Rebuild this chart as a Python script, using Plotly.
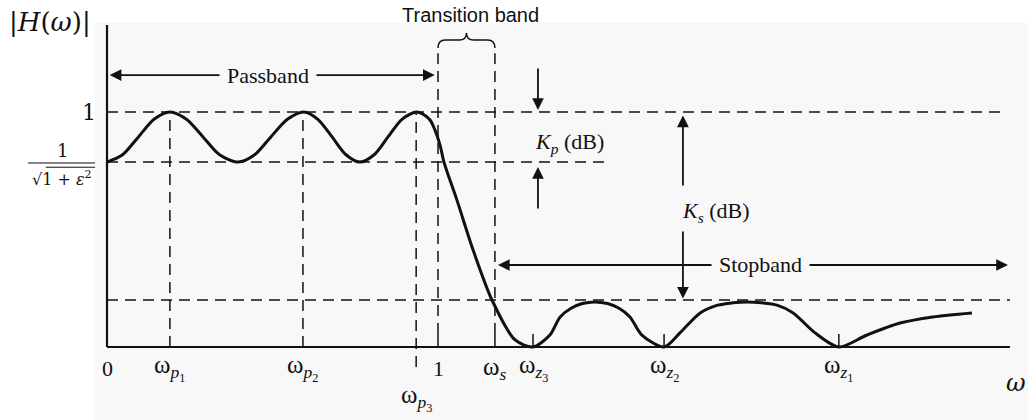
import plotly.graph_objects as go

# Magnitude response |H(w)| of an elliptic low-pass filter (frequency normalised so the passband edge is 1)
omega = [0.000, 0.047, 0.095, 0.142, 0.190,
         0.240, 0.290, 0.340, 0.396,
         0.446, 0.495, 0.545, 0.595,
         0.637, 0.680, 0.722, 0.764,
         0.807, 0.849, 0.891, 0.934,
         0.961, 0.976, 0.991, 1.006, 1.018, 1.057, 1.106, 1.163, 1.233, 1.287,
         1.338, 1.369, 1.402, 1.436, 1.474, 1.512, 1.547, 1.580, 1.616, 1.683,
         1.731, 1.792, 1.845, 1.890, 1.934, 1.978, 2.024, 2.073, 2.139, 2.211,
         2.296, 2.396, 2.495, 2.613]
mag = [0.787, 0.818, 0.894, 0.969, 1.000,
       0.969, 0.894, 0.818, 0.787,
       0.818, 0.894, 0.969, 1.000,
       0.969, 0.894, 0.818, 0.787,
       0.818, 0.894, 0.969, 1.000,
       0.985, 0.966, 0.923, 0.860, 0.787, 0.626, 0.413, 0.200, 0.030, 0.000,
       0.051, 0.128, 0.165, 0.185, 0.192, 0.185, 0.165, 0.128, 0.051, 0.000,
       0.060, 0.145, 0.178, 0.188, 0.192, 0.188, 0.178, 0.145, 0.060, 0.000,
       0.051, 0.102, 0.128, 0.145]

# Characteristic frequencies and levels
w_p = [0.190, 0.592, 0.934]      # passband peaks
w_edge = 1.0                     # passband edge
w_s = 1.172                      # stopband edge
w_z = [2.211, 1.683, 1.287]      # transmission zeros z1, z2, z3
level_pass = 1.0
level_ripple = 0.787             # 1/sqrt(1+eps^2)
level_stop = 0.200
w_axis_end = 2.728
h_axis_top = 1.370

X_RANGE = [-0.3233, 2.7825]
Y_RANGE = [-0.3106, 1.4766]

INK = "#111111"
PAGE = "#f8f8f8"
SERIF = "Liberation Serif"
DASH = "11px,7px"

fig = go.Figure()

fig.add_trace(go.Scatter(
    x=omega, y=mag, mode="lines",
    line=dict(color=INK, width=3, shape="spline", smoothing=0.8),
    hoverinfo="skip", showlegend=False,
))

shapes = []

# page tint behind the diagram
shapes.append(dict(type="rect", xref="x", yref="y", x0=-0.036, x1=X_RANGE[1] + 0.1,
                   y0=Y_RANGE[0] - 0.1, y1=1.379, fillcolor=PAGE,
                   line=dict(width=0), layer="below"))

def hline(y, x0, x1, dash=None, width=1.5):
    shapes.append(dict(type="line", xref="x", yref="y", x0=x0, x1=x1, y0=y, y1=y,
                       line=dict(color=INK, width=width, dash=dash)))

def vline(x, y0, y1, dash=None, width=1.5):
    shapes.append(dict(type="line", xref="x", yref="y", x0=x, x1=x, y0=y0, y1=y1,
                       line=dict(color=INK, width=width, dash=dash)))

# axes
hline(0, 0, w_axis_end, width=2.2)
vline(0, 0, h_axis_top, width=2.2)

# dashed reference levels
hline(level_pass, 0, 2.713, DASH)
hline(level_ripple, 0, 1.52, DASH)
hline(level_stop, 0, w_axis_end, DASH)

# dashed frequency markers
vline(w_p[0], 0, level_pass, DASH)
vline(w_p[1], 0, level_pass, DASH)
vline(w_p[2], -0.085, level_pass, DASH)
vline(w_edge, 0.055, 1.25, DASH)
vline(w_s, 0.055, 1.25, DASH)

# short solid ticks
for w in [w_edge, w_s] + w_z:
    vline(w, 0, 0.055, width=1.5)

# brace over the transition band
yb, yc, yt = 1.272, 1.306, 1.336
xm = (w_edge + w_s) / 2
r = 0.022
brace = (f"M {w_edge},{yb} Q {w_edge},{yc} {w_edge + r},{yc} "
         f"L {xm - r},{yc} Q {xm},{yc} {xm},{yt} "
         f"Q {xm},{yc} {xm + r},{yc} L {w_s - r},{yc} Q {w_s},{yc} {w_s},{yb}")
shapes.append(dict(type="path", xref="x", yref="y", path=brace,
                   line=dict(color=INK, width=1.5)))

# fraction bar of 1/sqrt(1+eps^2)
hline(0.783, -0.239, -0.036, width=1.2)
hline(0.765, -0.185, -0.036, width=1.0)

annotations = []

def arrow(x0, y0, x1, y1, width=1.8):
    annotations.append(dict(x=x1, y=y1, ax=x0, ay=y0, xref="x", yref="y",
                            axref="x", ayref="y", text="", showarrow=True,
                            arrowhead=2, arrowsize=1.3, arrowwidth=width,
                            arrowcolor=INK, standoff=0, startstandoff=0))

def label(x, y, text, size=22, family=SERIF, xanchor="center", bg=None):
    a = dict(x=x, y=y, xref="x", yref="y", text=text, showarrow=False,
             font=dict(family=family, size=size, color=INK),
             xanchor=xanchor, yanchor="middle")
    if bg:
        a["bgcolor"] = bg
        a["borderpad"] = 7
    annotations.append(a)

# passband span
arrow(0.49, 1.157, 0.008, 1.157)
arrow(0.49, 1.157, 0.99, 1.157)
label(0.486, 1.157, "Passband", bg=PAGE)

# stopband span
arrow(1.96, 0.349, 1.181, 0.349)
arrow(1.96, 0.349, 2.722, 0.349)
label(1.973, 0.349, "Stopband", bg=PAGE)

# Kp markers
arrow(1.302, 1.191, 1.302, 1.009)
arrow(1.302, 0.583, 1.302, 0.766)
label(1.287, 0.868, "<i>K</i><sub><i>p</i></sub> (dB)", xanchor="left")

# Ks markers
arrow(1.740, 0.681, 1.740, 0.985)
arrow(1.740, 0.498, 1.740, 0.206)
label(1.731, 0.574, "<i>K</i><sub><i>s</i></sub> (dB)", xanchor="left")

label(1.097, 1.413, "Transition band", size=20, family="Liberation Sans")

# vertical axis labels
label(-0.172, 1.383, "|<i>H</i>(<i>ω</i>)|", size=26, family="DejaVu Serif")
label(-0.055, 1.0, "1", size=22, family="DejaVu Serif")
label(-0.136, 0.838, "1", size=18, family="DejaVu Serif")
label(-0.136, 0.715, "√1 + <i>ε</i><sup>2</sup>", size=16, family="DejaVu Serif")

# frequency labels
ylab = -0.09
TICK_SIZE = 25
label(0, ylab, "0", size=22)
label(w_p[0], ylab, "ω<sub><i>p</i><sub>1</sub></sub>", size=TICK_SIZE)
label(w_p[1], ylab, "ω<sub><i>p</i><sub>2</sub></sub>", size=TICK_SIZE)
label(w_p[2], -0.215, "ω<sub><i>p</i><sub>3</sub></sub>", size=TICK_SIZE)
label(w_edge, ylab, "1", size=22)
label(w_s, ylab, "ω<sub><i>s</i></sub>", size=TICK_SIZE)
label(w_z[2], ylab, "ω<sub><i>z</i><sub>3</sub></sub>", size=TICK_SIZE)
label(w_z[1], ylab, "ω<sub><i>z</i><sub>2</sub></sub>", size=TICK_SIZE)
label(w_z[0], ylab, "ω<sub><i>z</i><sub>1</sub></sub>", size=TICK_SIZE)
label(2.745, -0.155, "<i>ω</i>", size=24, family="DejaVu Serif")

fig.update_layout(
    width=1028, height=420,
    margin=dict(l=0, r=0, t=0, b=0),
    paper_bgcolor="white", plot_bgcolor="rgba(0,0,0,0)",
    xaxis=dict(range=X_RANGE, visible=False, fixedrange=True),
    yaxis=dict(range=Y_RANGE, visible=False, fixedrange=True),
    shapes=shapes, annotations=annotations,
    showlegend=False,
)

fig.write_html("out.html")
